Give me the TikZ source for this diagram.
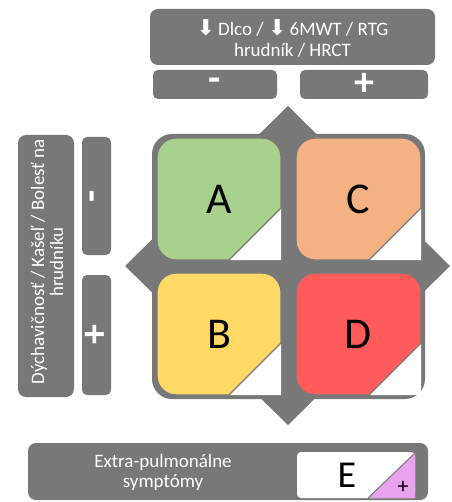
\documentclass[tikz,border=0pt]{standalone}
\usepackage{fontspec}
\setmainfont{Carlito}
\newfontfamily\symfont{DejaVu Sans}
\definecolor{gr}{RGB}{120,120,120}
\definecolor{cA}{RGB}{169,209,142}
\definecolor{cC}{RGB}{244,177,131}
\definecolor{cB}{RGB}{255,217,102}
\definecolor{cD}{RGB}{255,91,91}
\definecolor{cE}{RGB}{232,162,238}
\newcommand\cellpath[4]{(#3-52,#4) -- (#1+19,#4) .. controls (#1+8.5,#4) and (#1,#4-8.5) .. (#1,#4-19) -- (#1,#2+19) .. controls (#1,#2+8.5) and (#1+8.5,#2) .. (#1+19,#2) -- (#3-19,#2) .. controls (#3-8.5,#2) and (#3,#2+8.5) .. (#3,#2+19) -- (#3,#4-52) -- cycle}
\newcommand\mycell[6]{%
  \fill[white] (#3,#4-52) -- (#3,#4) -- (#3-52,#4) -- cycle;
  \draw[gr, line width=1.3pt, fill=#5] \cellpath{#1}{#2}{#3}{#4};
  \node[letter] (#6) at ({(#1+#3)/2}, {(#2+#4)/2}) {#6};
}
\newcommand\darrow{{\symfont\fontsize{22}{21}\selectfont ⬇}}
\begin{document}
\begin{tikzpicture}[x=1pt,y=-1pt,
  box/.style={fill=gr, rounded corners=8pt, inner sep=0pt},
  sbox/.style={fill=gr, rounded corners=5pt, inner sep=0pt},
  lbl/.style={text=white, align=center, font=\fontsize{19}{21}\selectfont},
  sign/.style={text=white, inner sep=0pt, font=\fontsize{40}{40}\selectfont\bfseries},
  letter/.style={font=\fontsize{44}{44}\selectfont, inner sep=0pt}]
\useasboundingbox (0,0) rectangle (451,502);

% top header
\node[box, minimum width=285pt, minimum height=56pt] (top) at (292.5,37) {};
\node[lbl] (toptxt) at (292.5,38)
  {\darrow\,Dlco / \darrow\,6MWT / RTG\\hrudník / HRCT};
\node[sbox, minimum width=124pt, minimum height=29pt] (topminus) at (215,84.5) {};
\node[sign] (tm) at (topminus.center) {-};
\node[sbox, minimum width=128pt, minimum height=29pt] (topplus) at (364,84.5) {};
\node[sign] (tp) at (topplus.center) {+};

% left header
\node[box, minimum width=56pt, minimum height=262pt] (left) at (46,266) {};
\node[rotate=90, text=white, align=center, font=\fontsize{19}{19}\selectfont] (lefttxt) at (47,262)
  {Dýchavičnosť / Kašeľ / Bolesť na\\hrudníku};
\node[sbox, minimum width=29pt, minimum height=118pt] (leftminus) at (96.5,196) {};
\node[sign, rotate=90] (lm) at (leftminus.center) {-};
\node[sbox, minimum width=29pt, minimum height=120pt] (leftplus) at (96.5,335) {};
\node[sign, rotate=90] (lp) at (leftplus.center) {+};

% grid background
\fill[gr] (288,106) -- (450,266) -- (288,425) -- (125,266) -- cycle;
\fill[gr, rounded corners=20pt] (152,134) rectangle (425,399);

\mycell{157}{138}{281}{260}{cA}{A}
\mycell{296}{138}{421}{260}{cC}{C}
\mycell{157}{273}{281}{395}{cB}{B}
\mycell{296}{273}{421}{395}{cD}{D}

% bottom bar
\node[box, minimum width=400pt, minimum height=57pt] (bottom) at (228,471.5) {};
\node[lbl, font=\fontsize{19}{20}\selectfont] (extra) at (163,472) {Extra-pulmonálne\\symptómy};
\node[fill=white, rounded corners=4pt, minimum width=118pt, minimum height=46pt, inner sep=0pt] (ebox) at (356,475) {};
\fill[cE] (415,453) -- (415,498) -- (368,498) -- cycle;
\draw[gr, line width=1pt] (415,453) -- (368,498);
\node[letter, font=\fontsize{38}{38}\selectfont] (E) at (347,475) {E};
\node[font=\fontsize{22}{22}\selectfont, inner sep=0pt] (eplus) at (403,487) {+};
\end{tikzpicture}
\end{document}
